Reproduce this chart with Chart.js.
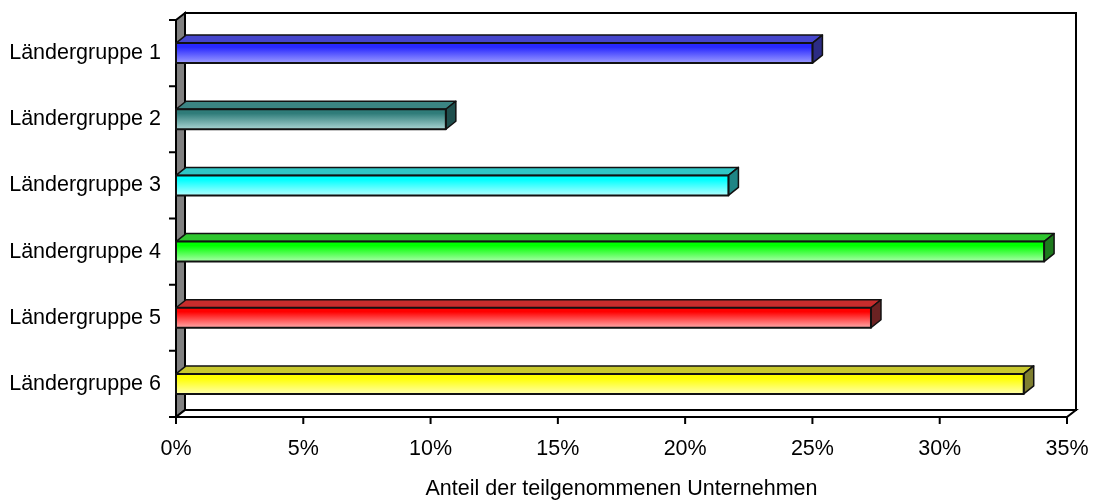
<!DOCTYPE html>
<html>
<head>
<meta charset="utf-8">
<script src="https://cdn.jsdelivr.net/npm/chart.js@4.4.1/dist/chart.umd.min.js"></script>
<style>
  html, body { margin: 0; padding: 0; background: #fff; }
  #wrap { width: 1094px; height: 500px; }
</style>
</head>
<body>
<div id="wrap"><canvas id="chart" width="1094" height="500"></canvas></div>
<script>
// Daten
const gruppen = ['Ländergruppe 1', 'Ländergruppe 2', 'Ländergruppe 3', 'Ländergruppe 4', 'Ländergruppe 5', 'Ländergruppe 6'];
const anteile = [25.0, 10.6, 21.7, 34.1, 27.3, 33.3];
const achseMax = 35;
const achseSchritt = 5;
const achsenTitel = 'Anteil der teilgenommenen Unternehmen';

// Farben je Balken: Oberseite, Front oben, Front unten, Seite
const farben = [
  ['#4646cc', '#2828ff', '#9c9cff', '#2c2c84'],
  ['#3b8583', '#2f7c79', '#a9d5d3', '#1f4f4d'],
  ['#2fc6c6', '#00ffff', '#b2ffff', '#1f8585'],
  ['#2fc62f', '#00ff00', '#aaffaa', '#1d7a1d'],
  ['#c82c2c', '#ff0000', '#ffa9a9', '#6b2222'],
  ['#c8c82e', '#ffff00', '#ffffaa', '#7f7f30']
];

const FONT = '"Liberation Sans", Arial, sans-serif';
const SCHRIFT = 21.5;
const WAND_DX = 9, WAND_DY = 7;   // Tiefe der Wände
const BALKEN_DX = 10, BALKEN_DY = 8; // Tiefe der Balken

function poly(ctx, pts, fill) {
  ctx.beginPath();
  ctx.moveTo(pts[0][0], pts[0][1]);
  for (let i = 1; i < pts.length; i++) ctx.lineTo(pts[i][0], pts[i][1]);
  ctx.closePath();
  if (fill) { ctx.fillStyle = fill; ctx.fill(); }
  ctx.stroke();
}

// Rückwand, Seitenwand und Boden
const waende = {
  id: 'waende',
  beforeDatasetsDraw(chart) {
    const { ctx, chartArea: a } = chart;
    ctx.save();
    ctx.strokeStyle = '#000';
    ctx.lineWidth = 2;
    ctx.lineJoin = 'miter';
    poly(ctx, [[a.left + WAND_DX, a.top - WAND_DY], [a.right + WAND_DX, a.top - WAND_DY],
      [a.right + WAND_DX, a.bottom - WAND_DY], [a.left + WAND_DX, a.bottom - WAND_DY]], '#fff');
    poly(ctx, [[a.left, a.top], [a.left + WAND_DX, a.top - WAND_DY],
      [a.left + WAND_DX, a.bottom - WAND_DY], [a.left, a.bottom]], '#808080');
    poly(ctx, [[a.left, a.bottom], [a.left + WAND_DX, a.bottom - WAND_DY],
      [a.right + WAND_DX, a.bottom - WAND_DY], [a.right, a.bottom]], '#fff');
    ctx.restore();
  }
};

// 3D-Balken aus den Positionen der Bar-Elemente
const balken3d = {
  id: 'balken3d',
  afterDatasetsDraw(chart) {
    const { ctx } = chart;
    const meta = chart.getDatasetMeta(0);
    ctx.save();
    ctx.strokeStyle = '#111';
    ctx.lineJoin = 'round';
    meta.data.forEach((bar, i) => {
      const p = bar.getProps(['x', 'y', 'base', 'height'], true);
      const l = p.base, r = p.x;
      const t = p.y - p.height / 2, b = p.y + p.height / 2;
      const f = farben[i];
      ctx.lineWidth = 1.5;
      poly(ctx, [[l, t], [l + BALKEN_DX, t - BALKEN_DY], [r + BALKEN_DX, t - BALKEN_DY], [r, t]], f[0]);
      poly(ctx, [[r, t], [r + BALKEN_DX, t - BALKEN_DY], [r + BALKEN_DX, b - BALKEN_DY], [r, b]], f[3]);
      const g = ctx.createLinearGradient(0, t, 0, b);
      g.addColorStop(0, f[1]);
      g.addColorStop(0.2, f[1]);
      g.addColorStop(1, f[2]);
      ctx.lineWidth = 2;
      poly(ctx, [[l, t], [r, t], [r, b], [l, b]], g);
    });
    ctx.restore();
  }
};

// Teilstriche an Kategoriegrenzen und Skalenwerten
const striche = {
  id: 'striche',
  afterDraw(chart) {
    const { ctx, chartArea: a } = chart;
    const xs = chart.scales.x;
    ctx.save();
    ctx.strokeStyle = '#000';
    ctx.lineWidth = 2;
    ctx.beginPath();
    const n = gruppen.length;
    for (let i = 0; i <= n; i++) {
      const y = a.top + (a.bottom - a.top) * i / n;
      ctx.moveTo(a.left - 7, y);
      ctx.lineTo(a.left, y);
    }
    for (let v = 0; v <= achseMax; v += achseSchritt) {
      const x = xs.getPixelForValue(v);
      ctx.moveTo(x, a.bottom);
      ctx.lineTo(x, a.bottom + 7);
    }
    ctx.stroke();
    ctx.restore();
  }
};

new Chart(document.getElementById('chart'), {
  type: 'bar',
  data: {
    labels: gruppen,
    datasets: [{
      data: anteile,
      backgroundColor: 'rgba(0,0,0,0)',
      borderWidth: 0,
      barThickness: 20
    }]
  },
  options: {
    indexAxis: 'y',
    responsive: false,
    animation: false,
    layout: { padding: { top: 20, right: 27, left: 0, bottom: 0 } },
    plugins: { legend: { display: false }, tooltip: { enabled: false } },
    scales: {
      x: {
        min: 0,
        max: achseMax,
        grid: { display: false, drawTicks: false },
        border: { display: false },
        ticks: {
          stepSize: achseSchritt,
          padding: 19,
          color: '#000',
          font: { family: FONT, size: SCHRIFT },
          callback: v => v + '%'
        },
        title: {
          display: true,
          text: achsenTitel,
          color: '#000',
          font: { family: FONT, size: SCHRIFT, lineHeight: 1.0 },
          padding: { top: 0, bottom: 0 }
        },
        afterFit: s => { s.height = 83; s.paddingLeft = 0; s.paddingRight = 0; }
      },
      y: {
        grid: { display: false, drawTicks: false },
        border: { display: false },
        ticks: {
          padding: 15,
          color: '#000',
          font: { family: FONT, size: SCHRIFT }
        },
        afterFit: s => { s.width = 176; s.paddingTop = 0; s.paddingBottom = 0; }
      }
    }
  },
  plugins: [waende, balken3d, striche]
});
</script>
</body>
</html>
